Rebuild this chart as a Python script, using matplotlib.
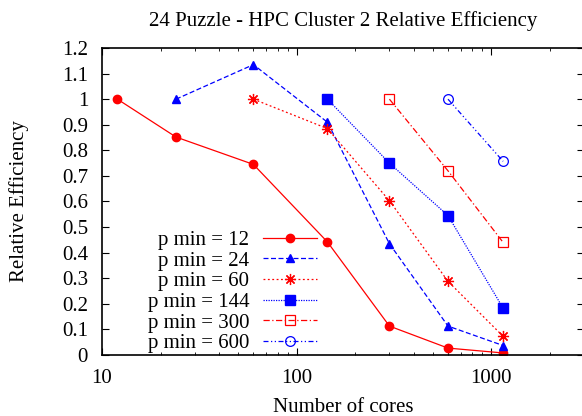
import numpy as np
import matplotlib.pyplot as plt

plt.rcParams['font.family'] = ['Liberation Serif', 'DejaVu Serif']
plt.rcParams['font.size'] = 15

# cores and relative efficiency for each p min
cores_12 = [12, 24, 60, 144, 300, 600, 1152]
eff_12 = [1.0, 0.852, 0.745, 0.442, 0.113, 0.027, 0.008]

cores_24 = [24, 60, 144, 300, 600, 1152]
eff_24 = [1.0, 1.135, 0.91, 0.435, 0.113, 0.037]

cores_60 = [60, 144, 300, 600, 1152]
eff_60 = [1.0, 0.885, 0.603, 0.288, 0.073]

cores_144 = [144, 300, 600, 1152]
eff_144 = [1.0, 0.75, 0.545, 0.183]

cores_300 = [300, 600, 1152]
eff_300 = [1.0, 0.72, 0.44]

cores_600 = [600, 1152]
eff_600 = [1.0, 0.757]

red = '#ff0000'
blue = '#0000ff'

fig = plt.figure(figsize=(5.82, 4.16), dpi=100)
ax = fig.add_axes([102/582, 1 - 355/416, 482/582, 307/416])

ax.plot(cores_12, eff_12, '-', color=red, lw=0.9, marker='o', ms=6, label='p min = 12')
ax.plot(cores_24, eff_24, color=blue, lw=0.9, ls=(0, (4, 2)), marker='^', ms=5.5, label='p min = 24')
ax.plot(cores_60, eff_60, color=red, lw=0.9, ls=(0, (1.5, 2)), marker=(8, 2, 0), ms=8, mew=0.9, label='p min = 60')
ax.plot(cores_144, eff_144, color=blue, lw=0.9, ls=(0, (1, 1)), marker='s', ms=6.5, label='p min = 144')
ax.plot(cores_300, eff_300, color=red, lw=0.9, ls=(0, (5, 2, 1, 2)), marker='s', ms=7.5, mfc='none', mew=0.9, label='p min = 300')
ax.plot(cores_600, eff_600, color=blue, lw=0.9, ls=(0, (4, 2, 1, 2, 1, 2)), marker='o', ms=7, mfc='none', mew=0.9, label='p min = 600')

ax.set_xscale('log')
ax.set_xlim(10, 3000)
ax.set_ylim(0, 1.2)
ax.set_yticks(np.arange(0, 1.21, 0.1))
ax.set_yticklabels(['%g' % round(v, 1) for v in np.arange(0, 1.21, 0.1)])
ax.set_xticks([10, 100, 1000])
ax.set_xticklabels(['10', '100', '1000'])

ax.tick_params(which='both', direction='in', top=True, right=True)
ax.tick_params(which='major', length=5)
ax.tick_params(which='minor', length=2.5)
ax.tick_params(axis='x', which='major', pad=10)
ax.tick_params(axis='y', which='major', pad=10)
for s in ax.spines.values():
    s.set_linewidth(1.2)

ax.set_title('24 Puzzle - HPC Cluster 2 Relative Efficiency', fontsize=15, pad=16)
ax.set_xlabel('Number of cores', labelpad=7)
ax.set_ylabel('Relative Efficiency', labelpad=24)

ax.legend(loc='lower right', bbox_to_anchor=(0.468, -0.028), frameon=False,
          markerfirst=False, borderpad=0, handlelength=2.6, handletextpad=0.65,
          labelspacing=0.05, fontsize=15)

fig.savefig('out.png', dpi=100)
